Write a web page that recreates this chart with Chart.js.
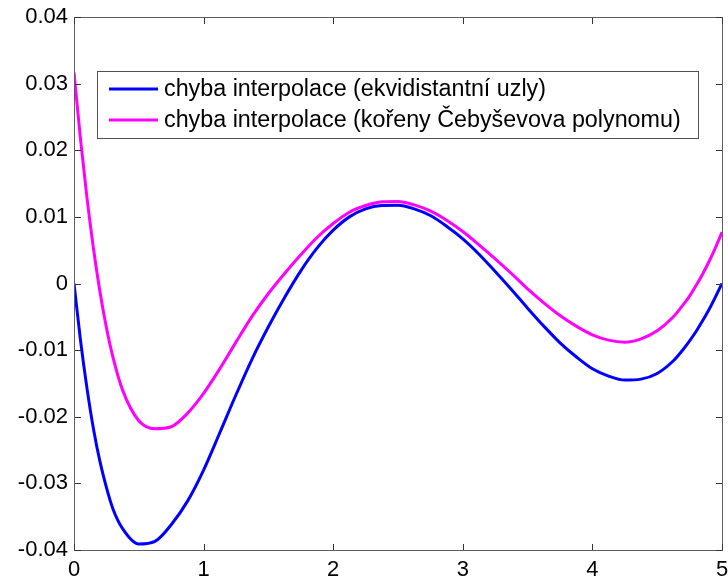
<!DOCTYPE html>
<html>
<head>
<meta charset="utf-8">
<script src="https://cdn.jsdelivr.net/npm/chart.js@4.4.1/dist/chart.umd.min.js"></script>
<style>
html,body{margin:0;padding:0;background:#fff;}
#wrap{width:728px;height:583px;position:relative;}
</style>
</head>
<body>
<div id="wrap"><canvas id="c" width="728" height="583"></canvas></div>
<script>
// ---- data ----
const seriesLabels = [
  'chyba interpolace (ekvidistantní uzly)',
  'chyba interpolace (kořeny Čebyševova polynomu)'
];
const xValues = [0, 0.05, 0.1, 0.15, 0.2, 0.25, 0.3, 0.375, 0.5, 0.625, 0.75, 0.875, 1.0, 1.125, 1.25, 1.375, 1.5, 1.625, 1.75, 1.875, 2.0, 2.125, 2.25, 2.375, 2.5, 2.625, 2.75, 2.875, 3.0, 3.125, 3.25, 3.375, 3.5, 3.625, 3.75, 3.875, 4.0, 4.125, 4.25, 4.375, 4.5, 4.625, 4.7, 4.75, 4.8, 4.85, 4.9, 4.95, 5];
const equidistantError = [0, -0.0085, -0.0157, -0.0218, -0.0267, -0.0306, -0.0338, -0.0368, -0.0391, -0.0387, -0.0362, -0.0327, -0.0280, -0.0224, -0.0167, -0.0113, -0.0065, -0.0021, 0.0019, 0.0053, 0.0080, 0.0100, 0.0112, 0.0117, 0.01175, 0.0112, 0.0102, 0.0086, 0.0067, 0.0044, 0.0018, -0.0009, -0.0037, -0.0064, -0.0089, -0.0110, -0.0128, -0.0139, -0.0145, -0.01435, -0.0135, -0.0116, -0.0099, -0.0086, -0.0072, -0.0056, -0.0039, -0.0020, 0];
const chebyshevError = [0.0317, 0.0217, 0.0129, 0.0053, -0.0012, -0.0066, -0.0110, -0.0160, -0.0206, -0.0218, -0.0215, -0.0195, -0.0165, -0.0128, -0.0088, -0.0049, -0.0015, 0.0015, 0.0043, 0.0069, 0.0090, 0.0107, 0.0117, 0.01226, 0.01232, 0.0118, 0.0109, 0.0095, 0.0078, 0.0058, 0.0037, 0.0015, -0.0008, -0.0029, -0.0048, -0.0064, -0.0077, -0.0085, -0.0088, -0.0083, -0.0071, -0.0050, -0.0032, -0.0019, -0.0003, 0.0014, 0.0033, 0.0054, 0.0077];
const xTickValues = [0, 1, 2, 3, 4, 5];
const yTickValues = [-0.04, -0.03, -0.02, -0.01, 0, 0.01, 0.02, 0.03, 0.04];
const seriesColors = ['#0000ff', '#ff00ff'];

function toPoints(xs, ys) { return xs.map((x, i) => ({ x: x, y: ys[i] })); }

const FONT = "'Liberation Sans', Arial, Helvetica, sans-serif";

const boxPlugin = {
  id: 'matlabBox',
  afterDraw(chart) {
    const ctx = chart.ctx;
    const xs = chart.scales.x, ys = chart.scales.y;
    const L = Math.round(xs.getPixelForValue(0));
    const R = Math.round(xs.getPixelForValue(5));
    const T = Math.round(ys.getPixelForValue(0.04));
    const B = Math.round(ys.getPixelForValue(-0.04));
    ctx.save();
    // axes box (1px lines drawn as filled bars)
    ctx.fillStyle = '#5e5e5e';
    ctx.fillRect(L, T, R - L + 1, 1);
    ctx.fillRect(L, B, R - L + 1, 1);
    ctx.fillRect(L, T, 1, B - T + 1);
    ctx.fillRect(R, T, 1, B - T + 1);
    // inward ticks
    ctx.fillStyle = '#333333';
    const tl = 6;
    xTickValues.forEach(v => {
      const px = Math.round(xs.getPixelForValue(v));
      ctx.fillRect(px, B - tl, 1, tl);
      ctx.fillRect(px, T + 1, 1, tl);
    });
    yTickValues.forEach(v => {
      const py = Math.round(ys.getPixelForValue(v));
      ctx.fillRect(L + 1, py, tl, 1);
      ctx.fillRect(R - tl, py, tl, 1);
    });
    // legend
    ctx.fillStyle = '#ffffff';
    ctx.fillRect(97.5, 71.5, 601, 67);
    ctx.lineWidth = 1;
    ctx.strokeStyle = '#505050';
    ctx.strokeRect(97.5, 71.5, 601, 67);
    const rowsY = [89, 120];
    chart.data.datasets.forEach((ds, i) => {
      ctx.strokeStyle = ds.borderColor;
      ctx.lineWidth = 3;
      ctx.beginPath();
      ctx.moveTo(109, rowsY[i]); ctx.lineTo(158, rowsY[i]);
      ctx.stroke();
      ctx.fillStyle = '#000';
      ctx.font = '23.3px ' + FONT;
      ctx.textBaseline = 'middle';
      ctx.textAlign = 'left';
      ctx.fillText(ds.label, 164, rowsY[i] + 1);
    });
    ctx.restore();
  }
};

new Chart(document.getElementById('c'), {
  type: 'scatter',
  data: {
    datasets: [
      { label: seriesLabels[0], data: toPoints(xValues, equidistantError), showLine: true,
        borderColor: seriesColors[0], backgroundColor: seriesColors[0],
        borderWidth: 3, pointRadius: 0, cubicInterpolationMode: 'monotone' },
      { label: seriesLabels[1], data: toPoints(xValues, chebyshevError), showLine: true,
        borderColor: seriesColors[1], backgroundColor: seriesColors[1],
        borderWidth: 3, pointRadius: 0, cubicInterpolationMode: 'monotone' }
    ]
  },
  options: {
    responsive: false,
    animation: false,
    devicePixelRatio: 1,
    layout: { padding: { top: 17, right: 6, left: 0, bottom: 0 } },
    plugins: { legend: { display: false }, tooltip: { enabled: false } },
    scales: {
      x: {
        type: 'linear', min: 0, max: 5,
        afterBuildTicks: s => { s.ticks = xTickValues.map(v => ({ value: v })); },
        afterFit: s => { s.height = 33; s.paddingLeft = 0; s.paddingRight = 0; },
        grid: { display: false, drawTicks: false }, border: { display: false },
        ticks: { color: '#000', padding: 7, maxRotation: 0, font: { family: FONT, size: 22 },
                 callback: v => String(v) }
      },
      y: {
        type: 'linear', min: -0.04, max: 0.04,
        afterBuildTicks: s => { s.ticks = yTickValues.map(v => ({ value: v })); },
        afterFit: s => { s.width = 74; s.paddingTop = 0; s.paddingBottom = 0; },
        grid: { display: false, drawTicks: false }, border: { display: false },
        ticks: { color: '#000', padding: 6, font: { family: FONT, size: 22 },
                 callback: v => Math.abs(v) < 1e-9 ? '0' : v.toFixed(2) }
      }
    }
  },
  plugins: [boxPlugin]
});
</script>
</body>
</html>
